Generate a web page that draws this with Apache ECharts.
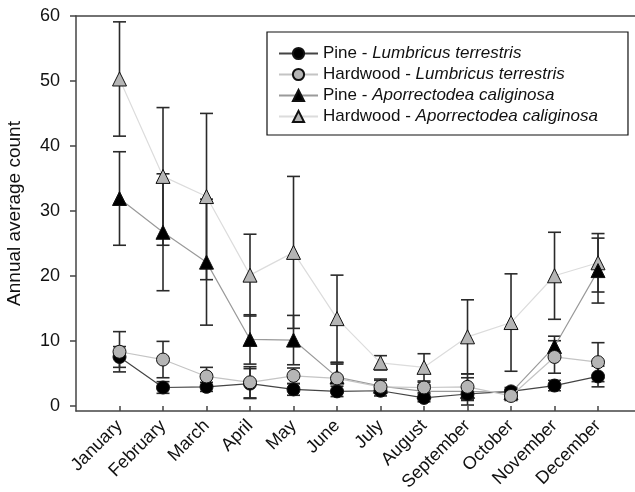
<!DOCTYPE html>
<html>
<head>
<meta charset="utf-8">
<script src="https://cdn.jsdelivr.net/npm/echarts@6/dist/echarts.min.js"></script>
<style>
html,body{margin:0;padding:0;background:#fff;}
#chart{width:635px;height:492px;}
</style>
</head>
<body>
<div id="chart"></div>
<script>
const months = ['January','February','March','April','May','June','July','August','September','October','November','December'];
const yTicks = [0, 10, 20, 30, 40, 50, 60];
const seriesNames = ['Pine - Lumbricus terrestris','Hardwood - Lumbricus terrestris','Pine - Aporrectodea caliginosa','Hardwood - Aporrectodea caliginosa'];

const pineLtMean = [7.5, 2.8, 2.9, 3.4, 2.5, 2.2, 2.3, 1.2, 1.8, 2.2, 3.1, 4.5];
const pineLtErr  = [1.6, 0.9, 0.7, 2.3, 0.9, 0.8, 0.8, 0.6, 1.0, 0.6, 0.8, 1.6];
const hardLtMean = [8.3, 7.1, 4.5, 3.6, 4.6, 4.2, 2.9, 2.8, 2.9, 1.5, 7.5, 6.7];
const hardLtErr  = [3.1, 2.8, 1.4, 2.4, 1.2, 2.2, 1.0, 0.8, 2.0, 0.7, 2.5, 3.0];
const pineAcMean = [31.9, 26.7, 22.1, 10.2, 10.1, 4.4, 3.0, 2.2, 2.2, 2.0, 9.1, 20.8];
const pineAcErr  = [7.2, 9.0, 9.7, 3.8, 3.8, 2.2, 1.1, 1.0, 2.1, 0.5, 1.6, 5.0];
const hardAcMean = [50.3, 35.3, 32.2, 20.1, 23.6, 13.4, 6.6, 5.9, 10.6, 12.8, 20.0, 22.0];
const hardAcErr  = [8.8, 10.6, 12.8, 6.3, 11.7, 6.7, 1.1, 2.1, 5.7, 7.5, 6.7, 4.5];

const FONT = '"Liberation Sans", Arial, sans-serif';

function pts(mean){ return mean.map((v,i)=>[i+1, v]); }
function errs(mean, err){ return mean.map((v,i)=>[i+1, v-err[i], v+err[i]]); }

function errorSeries(mean, err, z){
  return {
    type: 'custom',
    z: z,
    silent: true,
    data: errs(mean, err),
    encode: { x: 0, y: [1, 2] },
    renderItem: function(params, api){
      const x = api.value(0);
      const top = api.coord([x, api.value(2)]);
      const bot = api.coord([x, api.value(1)]);
      const hw = 6.5;
      const st = { stroke: '#2a2a2a', lineWidth: 1.6 };
      return {
        type: 'group',
        children: [
          { type: 'line', shape: { x1: top[0], y1: top[1], x2: bot[0], y2: bot[1] }, style: st },
          { type: 'line', shape: { x1: top[0]-hw, y1: top[1], x2: top[0]+hw, y2: top[1] }, style: st },
          { type: 'line', shape: { x1: bot[0]-hw, y1: bot[1], x2: bot[0]+hw, y2: bot[1] }, style: st }
        ]
      };
    }
  };
}

function lineSeries(name, mean, symbol, size, fill, lineColor, z){
  return {
    type: 'line',
    name: name,
    z: z,
    data: pts(mean),
    symbol: symbol,
    symbolSize: size,
    showAllSymbol: true,
    lineStyle: { color: lineColor, width: 1.2 },
    itemStyle: { color: fill, borderColor: '#111', borderWidth: 1 },
    emphasis: { disabled: true },
    animation: false
  };
}

const chart = echarts.init(document.getElementById('chart'));
chart.setOption({
  animation: false,
  backgroundColor: '#fff',
  grid: { left: 76, right: 0, top: 16, bottom: 81, containLabel: false, outerBoundsMode: 'none' },
  legend: {
    data: seriesNames,
    orient: 'vertical',
    left: 267,
    top: 32,
    padding: [13, 30, 10, 11],
    itemGap: 4,
    itemWidth: 39,
    itemHeight: 14,
    borderColor: '#111',
    borderWidth: 1.2,
    selectedMode: false,
    formatter: function(name){
      const parts = name.split(' - ');
      return '{n|' + parts[0] + ' - }{i|' + parts[1] + '}';
    },
    textStyle: {
      fontFamily: FONT, fontSize: 17, color: '#111',
      rich: {
        n: { fontFamily: FONT, fontSize: 17, color: '#111', lineHeight: 17 },
        i: { fontFamily: FONT, fontSize: 17, color: '#111', fontStyle: 'italic', lineHeight: 17 }
      }
    }
  },
  xAxis: [{
    type: 'value',
    min: 0,
    max: 12.85,
    splitLine: { show: false },
    axisLine: { show: true, onZero: false, lineStyle: { color: '#444', width: 1.5 } },
    axisTick: { show: true, inside: true, length: 5, customValues: months.map((m,i)=>i+1), lineStyle: { color: '#444', width: 1.5 } },
    axisLabel: {
      customValues: months.map((m,i)=>i+1),
      formatter: function(v){ return months[Math.round(v)-1] || ''; },
      rotate: 45,
      margin: 12,
      fontFamily: FONT, fontSize: 18, color: '#111'
    }
  }, {
    type: 'value',
    position: 'top',
    min: 0,
    max: 12.85,
    splitLine: { show: false },
    axisLine: { show: true, onZero: false, lineStyle: { color: '#444', width: 1.5 } },
    axisTick: { show: false },
    axisLabel: { show: false }
  }],
  yAxis: {
    type: 'value',
    min: -0.82,
    max: 60,
    name: 'Annual average count',
    nameLocation: 'middle',
    nameGap: 52,
    nameTextStyle: { fontFamily: FONT, fontSize: 19, color: '#111' },
    splitLine: { show: false },
    axisLine: { show: true, onZero: false, lineStyle: { color: '#444', width: 1.5 } },
    axisTick: { show: true, length: 6, customValues: yTicks, lineStyle: { color: '#444', width: 1.5 } },
    axisLabel: { customValues: yTicks, margin: 16, fontFamily: FONT, fontSize: 18, color: '#111' }
  },
  series: [
    errorSeries(hardAcMean, hardAcErr, 1),
    errorSeries(pineAcMean, pineAcErr, 1),
    errorSeries(hardLtMean, hardLtErr, 1),
    errorSeries(pineLtMean, pineLtErr, 1),
    lineSeries(seriesNames[0], pineLtMean, 'circle', 13, '#000', '#444', 5),
    lineSeries(seriesNames[1], hardLtMean, 'circle', 13, '#b5b5b5', '#c4c4c4', 6),
    lineSeries(seriesNames[2], pineAcMean, 'triangle', 14, '#000', '#9a9a9a', 4),
    lineSeries(seriesNames[3], hardAcMean, 'triangle', 14, '#b5b5b5', '#dcdcdc', 3)
  ]
});
</script>
</body>
</html>
